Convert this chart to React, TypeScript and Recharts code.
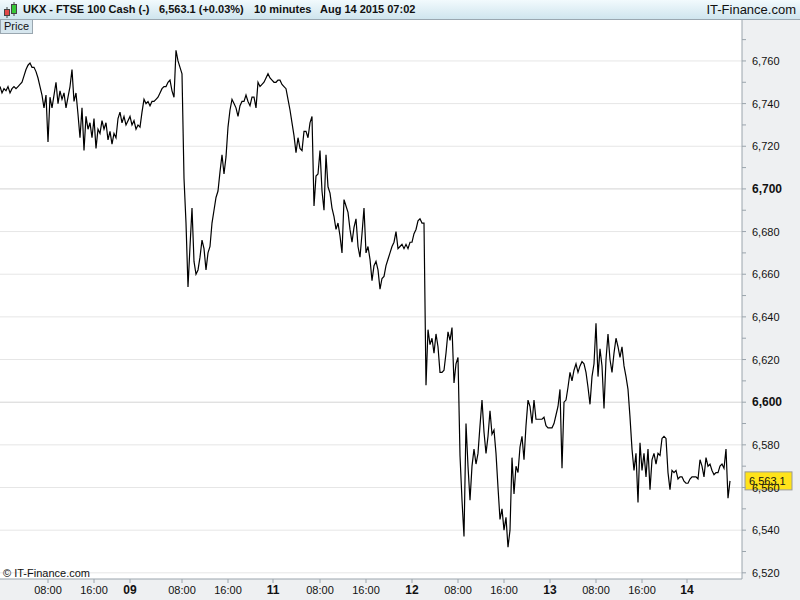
import React from "react";
import { LineChart, Line, XAxis, YAxis, CartesianGrid, ReferenceLine } from "recharts";

// FTSE 100 cash, 10 minute closes, sampled every 20 minutes (Aug 7 - Aug 14 2015)
const closes = [
  6748, 6745, 6747, 6746, 6748, 6745, 6747, 6748, 6747, 6748,
  6749, 6750, 6753, 6756, 6758, 6759, 6757, 6757, 6755, 6752,
  6748, 6744, 6738, 6744, 6722, 6743, 6738, 6744, 6750, 6740,
  6746, 6742, 6745, 6738, 6743, 6748, 6756, 6741, 6745, 6735,
  6724, 6738, 6718, 6734, 6728, 6731, 6724, 6733, 6719, 6728,
  6726, 6732, 6728, 6731, 6723, 6727, 6721, 6726, 6724, 6733,
  6736, 6731, 6734, 6730, 6732, 6734, 6730, 6732, 6728, 6730,
  6729, 6736, 6742, 6740, 6741, 6739, 6741, 6741, 6742, 6743,
  6745, 6747, 6748, 6748, 6750, 6751, 6746, 6743, 6765, 6760,
  6757, 6754, 6705, 6684, 6654, 6673, 6691, 6666, 6660, 6662,
  6668, 6676, 6672, 6662, 6670, 6673, 6684, 6690, 6696, 6699,
  6708, 6716, 6707, 6715, 6729, 6737, 6742, 6740, 6738, 6734,
  6739, 6741, 6741, 6744, 6741, 6739, 6743, 6743, 6738, 6750,
  6748, 6749, 6750, 6752, 6754, 6752, 6751, 6750, 6750, 6751,
  6751, 6749, 6748, 6747, 6742, 6737, 6731, 6725, 6717, 6724,
  6719, 6718, 6727, 6727, 6724, 6731, 6734, 6692, 6706, 6707,
  6718, 6699, 6690, 6716, 6701, 6698, 6691, 6687, 6681, 6684,
  6678, 6670, 6695, 6692, 6689, 6681, 6675, 6682, 6686, 6673,
  6668, 6679, 6691, 6670, 6673, 6667, 6657, 6664, 6666, 6662,
  6653, 6658, 6659, 6664, 6667, 6670, 6673, 6675, 6680, 6672,
  6673, 6674, 6672, 6674, 6672, 6675, 6675, 6679, 6681, 6685,
  6686, 6684, 6684, 6608, 6634, 6627, 6630, 6623, 6632, 6626,
  6614, 6614, 6615, 6623, 6633, 6629, 6635, 6609, 6618, 6621,
  6575, 6554, 6537, 6590, 6570, 6554, 6570, 6578, 6571, 6576,
  6589, 6601, 6586, 6576, 6584, 6596, 6585, 6587, 6576, 6560,
  6545, 6550, 6540, 6546, 6532, 6540, 6574, 6557, 6570, 6567,
  6579, 6584, 6573, 6589, 6601, 6598, 6590, 6601, 6592, 6592,
  6592, 6592, 6593, 6589, 6588, 6588, 6588, 6590, 6594, 6598,
  6606, 6569, 6600, 6601, 6607, 6614, 6610, 6615, 6618, 6614,
  6617, 6619, 6618, 6614, 6607, 6599, 6612, 6618, 6637, 6612,
  6625, 6617, 6597, 6620, 6632, 6620, 6614, 6623, 6630, 6626,
  6621, 6626, 6617, 6612, 6606, 6593, 6578, 6568, 6576, 6553,
  6581, 6568, 6576, 6565, 6578, 6559, 6573, 6576, 6571, 6576,
  6575, 6583, 6584, 6583, 6567, 6559, 6568, 6567, 6568, 6564,
  6565, 6565, 6563, 6562, 6562, 6564, 6565, 6565, 6565, 6564,
  6573, 6570, 6565, 6574, 6570, 6571, 6568, 6566, 6567, 6567,
  6570, 6571, 6569, 6578, 6555, 6563.1,
];

// time axis labels and where they sit (in sample units)
const xTickPos = [24, 47, 65, 91, 114, 136.5, 160, 183, 206, 229, 252, 275, 298, 321, 343.5];
const xTickLabels = ["08:00", "16:00", "09", "08:00", "16:00", "11", "08:00", "16:00", "12", "08:00", "16:00", "13", "08:00", "16:00", "14"];

const yTicks = [6520, 6530, 6540, 6550, 6560, 6570, 6580, 6590, 6600, 6610, 6620, 6630, 6640, 6650, 6660, 6670, 6680, 6690, 6700, 6710, 6720, 6730, 6740, 6750, 6760, 6770];
const gridValues = [6520, 6540, 6560, 6580, 6600, 6620, 6640, 6660, 6680, 6700, 6720, 6740, 6760];
const boldValues = [6600, 6700];
const lastPrice = 6563.1;

const data = closes.map((v, i) => ({ i, v }));

const FONT = "'Liberation Sans', Arial, sans-serif";

const fmt = (v: number) => v.toLocaleString("en-US");

function YTick(props: any) {
  const { x, y, payload } = props;
  const v = payload.value;
  if (v % 20 !== 0) return null;
  const bold = boldValues.includes(v);
  return (
    <text x={x + 4} y={y} dy={4} fontSize={bold ? 12 : 11} fontWeight={bold ? "bold" : "normal"} fill="#111" fontFamily={FONT}>
      {fmt(v)}
    </text>
  );
}

function XTick(props: any) {
  const { x, y, index } = props;
  const label = xTickLabels[index];
  const day = label.length === 2;
  return (
    <text x={x} y={y + 9} textAnchor="middle" fontSize={day ? 12 : 11} fontWeight={day ? "bold" : "normal"} fill="#111" fontFamily={FONT}>
      {label}
    </text>
  );
}

function PriceBadge(props: any) {
  const { viewBox } = props;
  const x = viewBox.x + viewBox.width + 3;
  const y = viewBox.y;
  return (
    <g>
      <rect x={x} y={y - 9} width={47} height={18} fill="#ffe31a" stroke="#999" />
      <text x={x + 4} y={y + 4} fontSize={11} fill="#111" fontFamily={FONT}>
        {fmt(lastPrice)}
      </text>
    </g>
  );
}

function Header() {
  return (
    <div
      style={{
        position: "absolute",
        left: 0,
        top: 0,
        width: 800,
        height: 20,
        boxSizing: "border-box",
        background: "linear-gradient(#f2fafd, #cfe5ee)",
        borderBottom: "1px solid #9aa7b0",
        fontFamily: FONT,
        fontSize: 11,
        fontWeight: "bold",
        color: "#111",
      }}
    >
      <svg width={20} height={20} style={{ position: "absolute", left: 2, top: 0 }}>
        <line x1={5} y1={7} x2={5} y2={18} stroke="#444" />
        <rect x={2.5} y={9.5} width={5} height={6} fill="#e04848" stroke="#444" />
        <line x1={12} y1={2} x2={12} y2={16} stroke="#444" />
        <rect x={9.5} y={4.5} width={5} height={9} fill="#38c838" stroke="#444" />
      </svg>
      <span style={{ position: "absolute", left: 23, top: 3 }}>UKX - FTSE 100 Cash (-)</span>
      <span style={{ position: "absolute", left: 159, top: 3 }}>6,563.1 (+0.03%)</span>
      <span style={{ position: "absolute", left: 254, top: 3 }}>10 minutes</span>
      <span style={{ position: "absolute", left: 320, top: 3 }}>Aug 14 2015 07:02</span>
      <span style={{ position: "absolute", right: 4, top: 2, fontWeight: "normal", fontSize: 13 }}>IT-Finance.com</span>
    </div>
  );
}

export default function App() {
  return (
    <div style={{ position: "absolute", left: 0, top: 0, width: 800, height: 600, background: "#eef0f2", overflow: "hidden" }}>
      <Header />
      <div style={{ position: "absolute", left: 0, top: 20 }}>
        <LineChart width={800} height={580} data={data} margin={{ top: 0, right: 0, bottom: 0, left: 0 }}>
          <CartesianGrid fill="#ffffff" stroke="none" />
          {gridValues.map((g) => (
            <ReferenceLine key={g} y={g} stroke={boldValues.includes(g) ? "#d4d4d4" : "#e6e6e6"} />
          ))}
          <XAxis
            type="number"
            dataKey="i"
            domain={[0, 371]}
            ticks={xTickPos}
            interval={0}
            height={21}
            stroke="#9aa4ac"
            tickSize={4}
            tick={<XTick />}
          />
          <YAxis
            orientation="right"
            type="number"
            domain={[6517.1, 6779.2]}
            ticks={yTicks}
            interval={0}
            width={58}
            stroke="#9aa4ac"
            tickSize={4}
            tick={<YTick />}
          />
          <ReferenceLine y={lastPrice} stroke="none" ifOverflow="visible" label={<PriceBadge />} />
          <Line type="linear" dataKey="v" stroke="#000" strokeWidth={1.2} dot={false} isAnimationActive={false} />
        </LineChart>
      </div>
      <div
        style={{
          position: "absolute",
          left: 0,
          top: 20,
          height: 13,
          padding: "0 3px",
          background: "#d6e6ee",
          border: "1px solid #9aa7b0",
          borderTop: "none",
          fontFamily: FONT,
          fontSize: 11,
          lineHeight: "13px",
          color: "#111",
        }}
      >
        Price
      </div>
      <div style={{ position: "absolute", left: 3, top: 567, fontFamily: FONT, fontSize: 11, color: "#111" }}>
        © IT-Finance.com
      </div>
    </div>
  );
}
